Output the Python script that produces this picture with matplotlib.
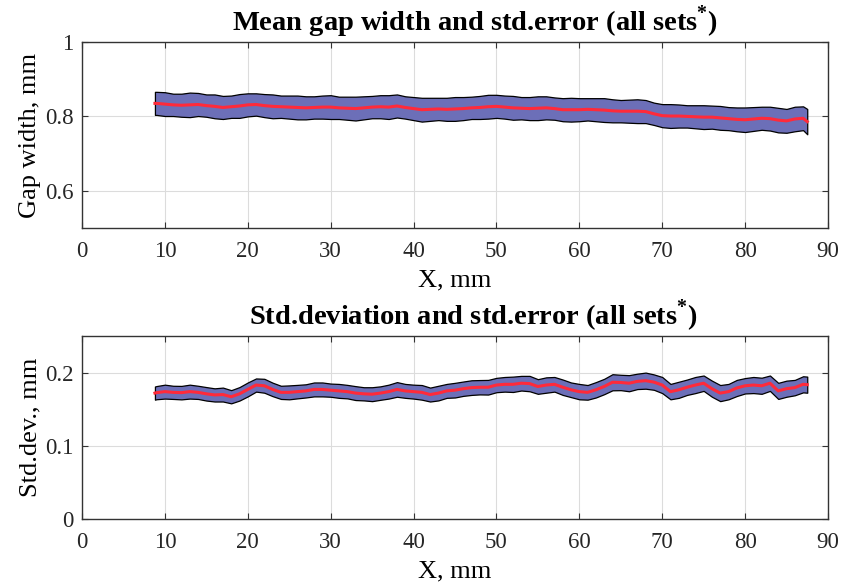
import numpy as np
import matplotlib
matplotlib.use("Agg")
import matplotlib.pyplot as plt

plt.rcParams['font.family'] = ['Liberation Serif', 'DejaVu Serif']
plt.rcParams['mathtext.fontset'] = 'custom'
plt.rcParams['mathtext.rm'] = 'Liberation Serif'
plt.rcParams['mathtext.bf'] = 'Liberation Serif:bold'

x_mm = [8.8, 9, 10, 11, 12, 13, 14, 15, 16, 17, 18, 19, 20, 21, 22, 23, 24, 25, 26, 27, 28,
        29, 30, 31, 32, 33, 34, 35, 36, 37, 38, 39, 40, 41, 42, 43, 44, 45, 46, 47, 48,
        49, 50, 51, 52, 53, 54, 55, 56, 57, 58, 59, 60, 61, 62, 63, 64, 65, 66, 67, 68,
        69, 70, 71, 72, 73, 74, 75, 76, 77, 78, 79, 80, 81, 82, 83, 84, 85, 86, 87, 87.5]

mean_gap = [0.835, 0.835, 0.833, 0.831, 0.830, 0.831, 0.832, 0.829, 0.827, 0.824, 0.826,
            0.828, 0.831, 0.832, 0.829, 0.827, 0.826, 0.825, 0.824, 0.823, 0.824, 0.825,
            0.825, 0.823, 0.822, 0.821, 0.823, 0.825, 0.826, 0.825, 0.828, 0.824, 0.821,
            0.818, 0.819, 0.820, 0.819, 0.820, 0.821, 0.823, 0.824, 0.826, 0.827, 0.825,
            0.823, 0.822, 0.821, 0.822, 0.823, 0.821, 0.818, 0.818, 0.818, 0.819, 0.818,
            0.817, 0.815, 0.814, 0.814, 0.814, 0.813, 0.807, 0.802, 0.801, 0.801, 0.800,
            0.799, 0.798, 0.798, 0.796, 0.794, 0.792, 0.791, 0.793, 0.795, 0.794, 0.790,
            0.788, 0.793, 0.795, 0.786]

err_gap = [0.031, 0.031, 0.032, 0.030, 0.031, 0.033, 0.031, 0.030, 0.032, 0.031, 0.030,
           0.032, 0.031, 0.030, 0.031, 0.032, 0.030, 0.031, 0.032, 0.031, 0.030, 0.031,
           0.032, 0.030, 0.031, 0.032, 0.031, 0.030, 0.031, 0.032, 0.031, 0.030, 0.031,
           0.032, 0.031, 0.030, 0.031, 0.032, 0.031, 0.030, 0.031, 0.032, 0.031, 0.031,
           0.032, 0.030, 0.031, 0.032, 0.031, 0.030, 0.031, 0.032, 0.031, 0.030, 0.031,
           0.032, 0.031, 0.030, 0.031, 0.032, 0.031, 0.030, 0.031, 0.032, 0.031, 0.030,
           0.031, 0.032, 0.031, 0.032, 0.031, 0.032, 0.033, 0.032, 0.031, 0.032, 0.033,
           0.032, 0.033, 0.032, 0.034]

mean_std = [0.172, 0.1726, 0.174, 0.173, 0.1726, 0.174, 0.173, 0.171, 0.1695, 0.170, 0.167,
            0.171, 0.177, 0.183, 0.182, 0.177, 0.173, 0.173, 0.174, 0.175, 0.177, 0.177,
            0.176, 0.175, 0.174, 0.172, 0.171, 0.1705, 0.172, 0.174, 0.177, 0.175, 0.174,
            0.173, 0.170, 0.172, 0.175, 0.176, 0.178, 0.1795, 0.180, 0.180, 0.183, 0.184,
            0.184, 0.1855, 0.185, 0.181, 0.183, 0.184, 0.180, 0.1765, 0.174, 0.173, 0.1765,
            0.181, 0.1868, 0.1865, 0.1855, 0.188, 0.189, 0.187, 0.183, 0.174, 0.1765, 0.180,
            0.183, 0.1855, 0.178, 0.172, 0.174, 0.179, 0.182, 0.183, 0.182, 0.1855, 0.175,
            0.178, 0.1795, 0.184, 0.1835]

err_std = [0.009, 0.009, 0.0095, 0.009, 0.0092, 0.0095, 0.009, 0.0092, 0.009, 0.0095, 0.009,
           0.0092, 0.0095, 0.009, 0.0095, 0.0092, 0.009, 0.0095, 0.0092, 0.009, 0.0095, 0.0095,
           0.009, 0.0095, 0.0092, 0.0095, 0.009, 0.0095, 0.0092, 0.0095, 0.010, 0.0095, 0.0095,
           0.010, 0.0095, 0.010, 0.0095, 0.010, 0.0098, 0.010, 0.0098, 0.010, 0.0098, 0.010,
           0.0105, 0.010, 0.0105, 0.010, 0.0105, 0.010, 0.0105, 0.010, 0.0105, 0.010, 0.0105,
           0.0105, 0.011, 0.0105, 0.011, 0.0105, 0.011, 0.0105, 0.011, 0.0105, 0.011, 0.0105,
           0.011, 0.0105, 0.011, 0.011, 0.0105, 0.011, 0.0105, 0.011, 0.011, 0.0105, 0.011,
           0.011, 0.0105, 0.011, 0.011]

x = np.array(x_mm)
mg = np.array(mean_gap); eg = np.array(err_gap)
ms = np.array(mean_std); es = np.array(err_std)

fill_col = '#6C6FB8'
line_col = '#FF2A3A'

fig = plt.figure(figsize=(8.41, 5.88), dpi=100)
ax1 = fig.add_axes([0.0975, 0.6122, 0.887, 0.3164])
ax2 = fig.add_axes([0.0975, 0.1173, 0.887, 0.3113])

def style(ax):
    ax.grid(True, color='#DCDCDC', linewidth=0.8)
    ax.set_axisbelow(True)
    ax.tick_params(direction='in', top=True, right=True, labelsize=16.5, length=4,
                   color='#333333', labelcolor='#262626')
    ax.tick_params(axis='x', pad=9)
    ax.tick_params(axis='y', pad=6)
    for s in ax.spines.values():
        s.set_color('#333333')
        s.set_linewidth(1.0)
    ax.set_xlim(0, 90)
    ax.set_xticks(range(0, 91, 10))
    ax.set_xlabel('X, mm', fontsize=19, labelpad=6)

ax1.fill_between(x, mg - eg, mg + eg, facecolor=fill_col, edgecolor='black', linewidth=0.9, zorder=2)
ax1.plot(x, mg, color=line_col, linewidth=2.2, zorder=3)
style(ax1)
ax1.set_ylim(0.5, 1.0)
ax1.set_yticks([0.6, 0.8, 1.0])
ax1.set_yticklabels(['0.6', '0.8', '1'])
ax1.set_ylabel('Gap width, mm', fontsize=19, labelpad=3)
ax1.set_title(r'Mean gap width and std.error (all sets$^{\mathbf{*}}$)', fontsize=20.5,
              fontweight='bold', pad=8, x=0.527)

ax2.fill_between(x, ms - es, ms + es, facecolor=fill_col, edgecolor='black', linewidth=0.9, zorder=2)
ax2.plot(x, ms, color=line_col, linewidth=2.2, zorder=3)
style(ax2)
ax2.set_ylim(0, 0.25)
ax2.set_yticks([0, 0.1, 0.2])
ax2.set_yticklabels(['0', '0.1', '0.2'])
ax2.set_ylabel('Std.dev., mm', fontsize=19, labelpad=3)
ax2.set_title(r'Std.deviation and std.error (all sets$^{\mathbf{*}}$)', fontsize=20.5,
              fontweight='bold', pad=8, x=0.525)

fig.savefig('out.png', dpi=100)
